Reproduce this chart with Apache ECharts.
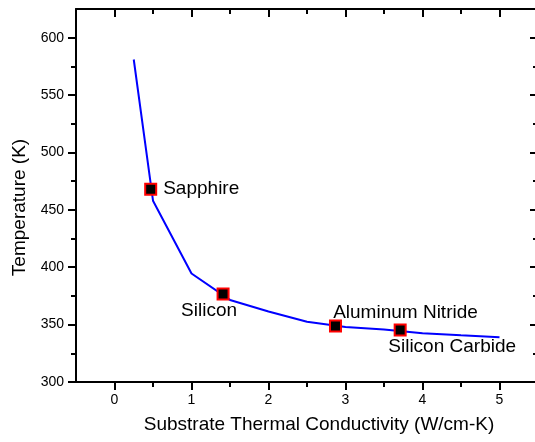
<!DOCTYPE html>
<html><head><meta charset="utf-8">
<script src="https://cdn.jsdelivr.net/npm/echarts@6/dist/echarts.min.js"></script>
<style>html,body{margin:0;padding:0;background:#fff}#c{width:535px;height:442px}</style>
</head><body><div id="c"></div>
<script>
// Simulated curve
const lineK = [0.25, 0.5, 1.0, 1.5, 2.0, 2.5, 3.0, 3.5, 4.0, 4.5, 5.0];
const lineT = [581, 458, 394.5, 371.5, 361.5, 352.5, 348, 345.8, 342.5, 340.7, 339];
// Substrate materials
const materials = ['Sapphire', 'Silicon', 'Aluminum Nitride', 'Silicon Carbide'];
const matK = [0.47, 1.41, 2.87, 3.71];
const matT = [467.9, 376.7, 348.8, 345.3];
// Ticks
const xMajorTicks = [0, 1, 2, 3, 4, 5];
const xMinorTicks = [0.5, 1.5, 2.5, 3.5, 4.5];
const yMajorTicks = [300, 350, 400, 450, 500, 550, 600];
const yMinorTicks = [325, 375, 425, 475, 525, 575];

const FONT = 'Liberation Sans, Arial, Helvetica, sans-serif';
const XMIN = -0.5, XMAX = 5.5, YMIN = 300, YMAX = 625;
const lineStyle = { color: '#000', width: 2 };

function xAx(opts) {
  return Object.assign({
    type: 'value', min: XMIN, max: XMAX,
    splitLine: { show: false },
    axisLabel: { show: false },
    axisLine: { show: false, onZero: false, lineStyle },
    axisTick: { show: false }
  }, opts);
}
function yAx(opts) {
  return Object.assign({
    type: 'value', min: YMIN, max: YMAX,
    splitLine: { show: false },
    axisLabel: { show: false },
    axisLine: { show: false, onZero: false, lineStyle },
    axisTick: { show: false }
  }, opts);
}

const labelOffsets = {
  'Sapphire': { position: 'right', distance: 6, offset: [0, -1] },
  'Silicon': { position: 'inside', offset: [-14, 17] },
  'Aluminum Nitride': { position: 'inside', offset: [70, -13] },
  'Silicon Carbide': { position: 'inside', offset: [52, 17] }
};

const chart = echarts.init(document.getElementById('c'), null, { renderer: 'canvas' });
chart.setOption({
  animation: false,
  backgroundColor: '#fff',
  textStyle: { fontFamily: FONT },
  grid: { left: 76, top: 9, width: 462, height: 373, containLabel: false, outerBoundsMode: 'none' },
  xAxis: [
    xAx({
      position: 'bottom',
      interval: 0.5,
      name: 'Substrate Thermal Conductivity (W/cm-K)',
      nameLocation: 'middle', nameGap: 33,
      nameTextStyle: { fontSize: 19, color: '#000', fontFamily: FONT, padding: [0, 0, 0, 24] },
      axisLine: { show: true, onZero: false, lineStyle },
      axisTick: { show: false },
      axisLabel: {
        show: true, margin: 11, fontSize: 14, color: '#000', fontFamily: FONT,
        formatter: v => (xMajorTicks.indexOf(v) >= 0 ? String(v) : '')
      }
    }),
    xAx({
      position: 'bottom',
      axisTick: { show: true, inside: false, length: 8, lineStyle, customValues: xMajorTicks }
    }),
    xAx({
      position: 'bottom',
      axisTick: { show: true, inside: false, length: 5, lineStyle, customValues: xMinorTicks }
    }),
    xAx({
      position: 'top',
      axisLine: { show: true, onZero: false, lineStyle },
      axisTick: { show: true, inside: true, length: 8, lineStyle, customValues: xMajorTicks }
    }),
    xAx({
      position: 'top',
      axisTick: { show: true, inside: true, length: 5, lineStyle, customValues: xMinorTicks }
    })
  ],
  yAxis: [
    yAx({
      position: 'left',
      interval: 50,
      name: 'Temperature (K)',
      nameLocation: 'middle', nameGap: 45,
      nameTextStyle: { fontSize: 19, color: '#000', fontFamily: FONT, padding: [0, 24, 0, 0] },
      axisLine: { show: true, onZero: false, lineStyle },
      axisTick: { show: false },
      axisLabel: {
        show: true, margin: 12, fontSize: 14, color: '#000', fontFamily: FONT,
        formatter: v => (yMajorTicks.indexOf(v) >= 0 ? String(v) : '')
      }
    }),
    yAx({
      position: 'left',
      axisTick: { show: true, inside: false, length: 8, lineStyle, customValues: yMajorTicks }
    }),
    yAx({
      position: 'left',
      axisTick: { show: true, inside: false, length: 5, lineStyle, customValues: yMinorTicks }
    }),
    yAx({
      position: 'right',
      axisLine: { show: true, onZero: false, lineStyle },
      axisTick: { show: true, inside: true, length: 8, lineStyle, customValues: yMajorTicks }
    }),
    yAx({
      position: 'right',
      axisTick: { show: true, inside: true, length: 5, lineStyle, customValues: yMinorTicks }
    })
  ],
  series: [
    {
      type: 'line',
      xAxisIndex: 0, yAxisIndex: 0,
      data: lineK.map((k, i) => [k, lineT[i]]),
      showSymbol: false, symbol: 'none',
      lineStyle: { color: '#0000ff', width: 2 },
      z: 2
    },
    {
      type: 'scatter',
      xAxisIndex: 0, yAxisIndex: 0,
      symbol: 'rect', symbolSize: 11,
      itemStyle: { color: '#000', borderColor: '#ff0000', borderWidth: 2, opacity: 1 },
      data: materials.map((m, i) => ({
        name: m,
        value: [matK[i], matT[i]],
        label: Object.assign({
          show: true, formatter: m, fontSize: 19, color: '#000', fontFamily: FONT
        }, labelOffsets[m])
      })),
      z: 3
    }
  ]
});
</script>
</body></html>
